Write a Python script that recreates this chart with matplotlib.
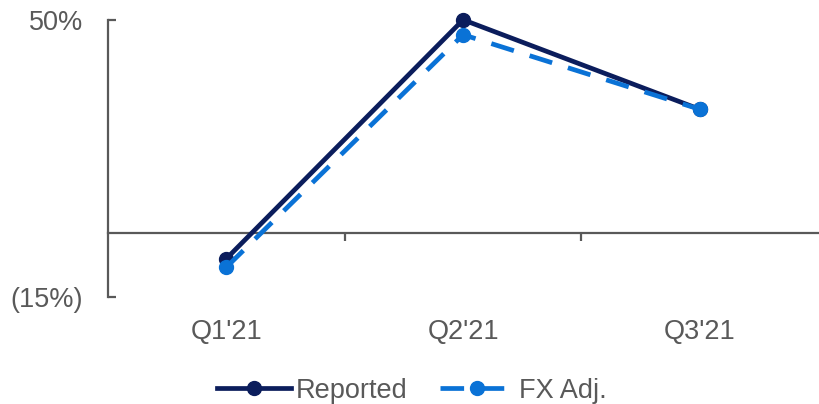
import matplotlib.pyplot as plt

plt.rcParams['font.family'] = ['Liberation Sans', 'DejaVu Sans']

# data (growth, %)
quarters = ["Q1'21", "Q2'21", "Q3'21"]
reported = [-6, 50, 29]
fx_adj = [-8, 46.5, 29]

ytick_vals = [50, -15]
ytick_labels = ["50%", "(15%)"]

navy = '#0b1d5c'
blue = '#0a72d6'
grey = '#595959'
axis_grey = '#595959'

fig = plt.figure(figsize=(8.19, 4.04), dpi=100)
ax = fig.add_axes([0.132, 0.265, 0.867, 0.686])

x = range(len(quarters))
ax.plot(x, reported, color=navy, lw=3.4, marker='o', ms=10, label='Reported',
        zorder=3, clip_on=False)
ax.plot(x, fx_adj, color=blue, lw=3.4, marker='o', ms=10, dashes=(5, 3.5),
        label='FX Adj.', zorder=4, clip_on=False)

ax.set_xlim(-0.5, 2.5)
ax.set_ylim(-15, 50)

# spines: left only plus a zero line as the bottom axis
for s in ['top', 'right']:
    ax.spines[s].set_visible(False)
ax.spines['bottom'].set_position(('data', 0))
ax.spines['bottom'].set_color(axis_grey)
ax.spines['bottom'].set_linewidth(1.6)
ax.spines['left'].set_color(axis_grey)
ax.spines['left'].set_linewidth(1.6)

ax.set_xticks(list(x))
ax.set_xticklabels(quarters)
ax.set_xticks([0.5, 1.5], minor=True)
ax.tick_params(axis='x', which='major', length=0, pad=62, labelsize=19.5, labelcolor=grey)
ax.tick_params(axis='x', which='minor', length=6, width=1.6, color=axis_grey, direction='out')

ax.set_yticks(ytick_vals)
ax.set_yticklabels(ytick_labels)
ax.tick_params(axis='y', length=6, width=1.6, color=axis_grey, direction='in',
               pad=18, labelsize=19.5, labelcolor=grey)

leg = fig.legend(loc='lower center', bbox_to_anchor=(0.503, -0.06), ncol=2, frameon=False,
                 fontsize=19.5, handlelength=2.7, handletextpad=0.2, columnspacing=1.2)
for t in leg.get_texts():
    t.set_color(grey)

fig.savefig('out.png', dpi=100)
